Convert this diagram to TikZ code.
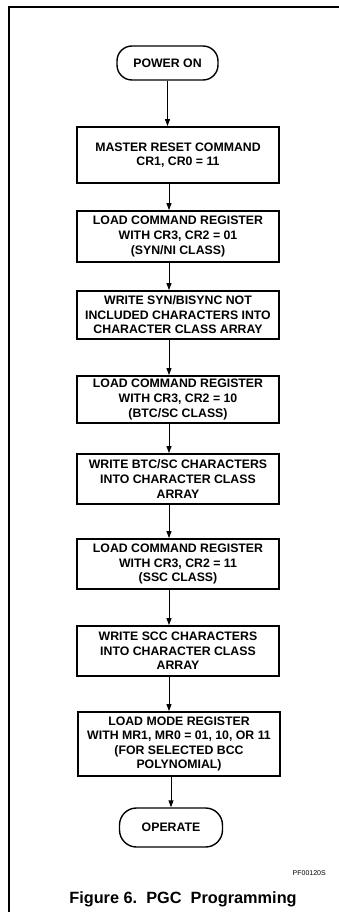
\documentclass[tikz,border=0pt]{standalone}
\usepackage{fontspec}
\setmainfont{Liberation Sans}
\usetikzlibrary{arrows.meta}
\begin{document}
\begin{tikzpicture}[x=1pt,y=-1pt,
  stepbox/.style={draw, line width=1.8pt, minimum width=202pt, inner sep=0pt,
    align=center, font=\fontsize{12.3}{14.6}\selectfont\bfseries},
  termbox/.style={draw, line width=1.4pt, rounded corners=15pt, inner sep=0pt,
    align=center, font=\fontsize{12.3}{14.6}\selectfont\bfseries},
  flow/.style={line width=0.9pt, -{Triangle[length=7pt,width=5pt]}},
  frame/.style={line width=1.1pt}]
\useasboundingbox (0,0) rectangle (339,912);
\coordinate (fl) at (9,7);
\coordinate (fr) at (339,7);
\coordinate (fb) at (9,912);
\draw[frame] (fr) -- (fl) -- (fb);
\coordinate (ax) at (169,0);
\node[termbox, minimum width=101pt, minimum height=34pt] (pon) at (167.5,63) {POWER ON};
\node[stepbox, minimum height=56pt] (b1) at (178,155) {MASTER RESET COMMAND\\CR1, CR0 = 11};
\node[stepbox, minimum height=51pt] (b2) at (178,236.5) {LOAD COMMAND REGISTER\\WITH CR3, CR2 = 01\\(SYN/NI CLASS)};
\node[stepbox, minimum height=48pt] (b3) at (178,315) {WRITE SYN/BISYNC NOT\\INCLUDED CHARACTERS INTO\\CHARACTER CLASS ARRAY};
\node[stepbox, minimum height=47pt] (b4) at (178,399.5) {LOAD COMMAND REGISTER\\WITH CR3, CR2 = 10\\(BTC/SC CLASS)};
\node[stepbox, minimum height=50pt] (b5) at (178,479) {WRITE BTC/SC CHARACTERS\\INTO CHARACTER CLASS\\ARRAY};
\node[stepbox, minimum height=50pt] (b6) at (178,564) {LOAD COMMAND REGISTER\\WITH CR3, CR2 = 11\\(SSC CLASS)};
\node[stepbox, minimum height=50pt] (b7) at (178,651) {WRITE SCC CHARACTERS\\INTO CHARACTER CLASS\\ARRAY};
\node[stepbox, minimum height=64pt] (b8) at (179,744) {LOAD MODE REGISTER\\WITH MR1, MR0 = 01, 10, OR 11\\(FOR SELECTED BCC\\POLYNOMIAL)};
\node[termbox, minimum width=103pt, minimum height=39pt, rounded corners=17pt] (op) at (171,827.5) {OPERATE};
\draw[flow] (pon.south) -- (pon.south |- b1.north);
\foreach \a/\b in {b1/b2,b2/b3,b3/b4,b4/b5,b5/b6,b6/b7,b7/b8}
  \draw[flow] (\a.south -| ax) -- (\b.north -| ax);
\draw[flow] (b8.south -| op.north) -- (op.north);
\node[anchor=east, inner sep=0pt, font=\fontsize{7}{8}\selectfont] (pf) at (326,873) {PF00120S};
\node[inner sep=0pt, font=\fontsize{16.3}{18}\selectfont\bfseries] (cap) at (183,899) {Figure\ 6.\ \ PGC\ \ Programming};
\end{tikzpicture}
\end{document}
